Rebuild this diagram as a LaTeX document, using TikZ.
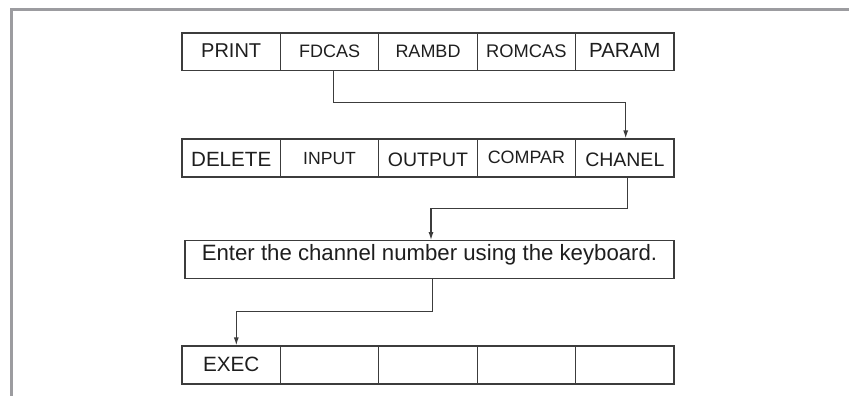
\documentclass[tikz,border=0pt]{standalone}
\usepackage{fontspec}
\setmainfont{Liberation Sans}
\usetikzlibrary{arrows.meta}
\definecolor{framegray}{HTML}{9C9CA0}
\definecolor{linegray}{HTML}{3C3C3C}
\definecolor{txt}{HTML}{1E1E1E}
\newcommand{\fsz}[1]{\fontsize{#1}{#1}\selectfont}
\begin{document}
\begin{tikzpicture}[x=1pt,y=-1pt,
  cell/.style={draw=linegray, line width=1.3pt, rectangle, inner sep=0pt,
    minimum width=98.4pt, minimum height=37.8pt, text depth=0pt, text=txt},
  wide/.style={cell, minimum width=489pt},
  conn/.style={draw=linegray, line width=1.3pt, -{Latex[length=8pt,width=5pt]}}]
\useasboundingbox (0,0) rectangle (849,396);
% frame
\draw[framegray, line width=2.5pt] (11.7,396) -- (11.7,9.7) -- (849,9.7);
% row 1
\node[cell, text height=10.6pt, font=\fsz{20}]   (p1) at (231.2,51.9) {PRINT};
\node[cell, text height=10.6pt, font=\fsz{18}]   (p2) at (329.6,51.9) {FDCAS};
\node[cell, text height=10.6pt, font=\fsz{18}]   (p3) at (428.0,51.9) {RAMBD};
\node[cell, text height=10.6pt, font=\fsz{18.3}] (p4) at (526.4,51.9) {ROMCAS};
\node[cell, text height=10.6pt, font=\fsz{20.5}] (p5) at (624.8,51.9) {PARAM};
% row 2
\node[cell, text height=17.4pt, font=\fsz{20.6}] (c1) at (231.2,158.0) {DELETE};
\node[cell, text height=12.0pt, font=\fsz{17.6}] (c2) at (329.6,158.0) {INPUT};
\node[cell, text height=17.4pt, font=\fsz{19.5}] (c3) at (428.0,158.0) {OUTPUT};
\node[cell, text height=10.6pt, font=\fsz{17.9}] (c4) at (526.4,158.0) {COMPAR};
\node[cell, text height=17.4pt, font=\fsz{19.5}] (c5) at (624.8,158.0) {CHANEL};
% text box
\node[wide, text height=1.4pt, font=\fsz{22.2}] (tb) at (429.5,259.7) {Enter the channel number using the keyboard.};
% row 3
\node[cell, text height=13.4pt, font=\fsz{20.7}] (e1) at (231.2,365.0) {EXEC};
\node[cell] (e2) at (329.6,365.0) {};
\node[cell] (e3) at (428.0,365.0) {};
\node[cell] (e4) at (526.4,365.0) {};
\node[cell] (e5) at (624.8,365.0) {};
% connectors
\draw[conn] ([xshift=4.1pt]p2.south) -- ++(0,31.3) -| ([xshift=0.9pt]c5.north);
\draw[conn] ([xshift=2.9pt]c5.south) -- ++(0,30.6) -| ([xshift=1.5pt]tb.north);
\draw[conn] ([xshift=3.2pt]tb.south) -- ++(0,32.3) -| ([xshift=5.1pt]e1.north);
\end{tikzpicture}
\end{document}
